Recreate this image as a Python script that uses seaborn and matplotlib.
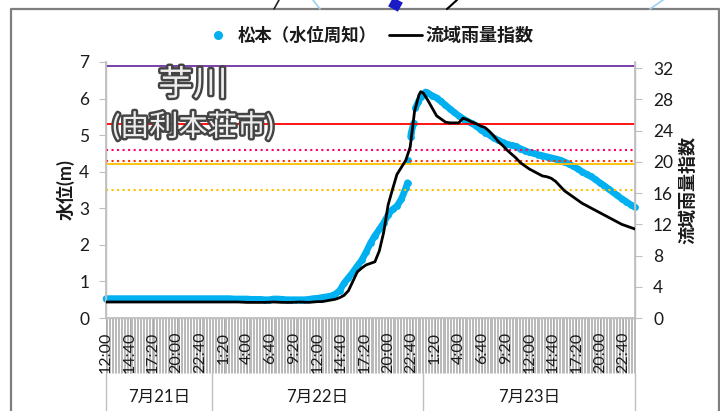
import numpy as np
import pandas as pd
import matplotlib
matplotlib.use('Agg')
from matplotlib import pyplot as plt
from matplotlib import patheffects as pe
from matplotlib.lines import Line2D
import seaborn as sns

# hours since 7/21 12:00
level_hours = [0, .5, 1, 1.5, 2, 2.5, 3, 3.5, 4, 4.5,
               5, 5.5, 6, 6.5, 7, 7.5, 8, 8.5, 9, 9.5,
               10, 10.5, 11, 11.5, 12, 12.5, 13, 13.5, 14, 14.5,
               15, 15.5, 16, 16.5, 17, 17.5, 18, 18.5, 19, 19.5,
               20, 20.5, 21, 21.5, 22, 22.5, 23, 23.5, 24, 24.5,
               25, 25.5, 26, 26.5, 27, 27.5, 28, 28.5, 29, 29.5,
               30, 30.5, 31, 31.5, 32, 32.5, 33, 33.5, 34, 34.2,
               34.3, 34.55, 34.6, 34.9, 35.1, 35.4, 35.7, 36.25, 36.5, 37,
               37.5, 38, 38.5, 39, 39.5, 40, 40.5, 41, 41.5, 42,
               42.5, 43, 43.5, 44, 44.5, 45, 45.5, 46, 46.5, 47,
               47.5, 48, 48.5, 49, 49.5, 50, 50.5, 51, 51.5, 52,
               52.5, 53, 53.5, 54, 54.5, 55, 55.5, 56, 56.5, 57,
               57.5, 58, 58.5, 59, 59.5, 60]
level_m = [.53, .53, .53, .53, .53, .53, .53, .53, .53, .53,
           .53, .53, .53, .53, .53, .53, .53, .53, .53, .53,
           .53, .53, .53, .53, .53, .53, .53, .53, .53, .52,
           .52, .52, .52, .51, .51, .51, .50, .50, .52, .52,
           .51, .50, .50, .50, .50, .50, .51, .53, .54, .56,
           .58, .60, .65, .75, .95, 1.1, 1.25, 1.42, 1.58, 1.8,
           2.05, 2.25, 2.42, 2.6, 2.82, 2.97, 3.06, 3.25, 3.55, 3.7,
           4.32, 4.95, 5.05, 5.33, 5.74, 5.9, 6.04, 6.18, 6.15, 6.08,
           6.02, 5.92, 5.82, 5.72, 5.62, 5.53, 5.45, 5.38, 5.32, 5.25,
           5.15, 5.07, 5.0, 4.92, 4.86, 4.8, 4.75, 4.72, 4.69, 4.63,
           4.58, 4.53, 4.5, 4.47, 4.44, 4.41, 4.38, 4.35, 4.32, 4.27,
           4.21, 4.15, 4.08, 4.0, 3.93, 3.87, 3.79, 3.7, 3.62, 3.53,
           3.44, 3.35, 3.26, 3.18, 3.1, 3.03]
# unbroken stretches of the gauge record, as first hour of each
level_run_starts = [0, 34.3, 34.55, 35.1]

rain_hours = [0, 1, 2, 3, 4, 5, 6, 7, 8, 9,
              10, 11, 12, 13, 14, 15, 16, 17, 18, 19,
              20, 21, 22, 23, 24, 24.5, 25, 25.5, 26, 26.5,
              27, 27.5, 28, 28.5, 29, 29.5, 30, 30.5, 31, 31.5,
              32, 32.5, 33, 33.5, 34, 34.5, 35, 35.5, 35.7, 36,
              36.5, 37, 37.5, 38, 38.5, 39, 39.5, 40, 40.5, 41,
              41.5, 42, 42.5, 43, 43.5, 44, 44.5, 45, 45.5, 46,
              46.5, 47, 47.5, 48, 48.5, 49, 49.5, 50, 50.5, 51,
              51.5, 52, 52.5, 53, 53.5, 54, 54.5, 55, 55.5, 56,
              56.5, 57, 57.5, 58, 58.5, 59, 59.5, 60]
rain_index = [2.05, 2.05, 2.05, 2.05, 2.05, 2.05, 2.05, 2.05, 2.05, 2.05,
              2.05, 2.05, 2.05, 2.05, 2.05, 2.05, 2.0, 2.0, 2.0, 2.05,
              2.0, 2.0, 2.05, 2.0, 2.1, 2.1, 2.2, 2.3, 2.4, 2.6,
              2.9, 3.5, 4.7, 5.9, 6.4, 6.8, 7.0, 7.2, 8.6, 11.0,
              14.5, 16.5, 18.4, 19.3, 20.2, 21.9, 26.5, 28.6, 29.0, 28.8,
              27.9, 26.9, 25.9, 25.5, 25.1, 25.0, 25.0, 25.0, 25.6, 25.4,
              25.1, 24.9, 24.6, 24.4, 23.9, 23.3, 22.6, 22.1, 21.5, 21.0,
              20.5, 19.9, 19.5, 19.1, 18.8, 18.5, 18.2, 18.1, 17.9, 17.5,
              16.9, 16.3, 15.9, 15.5, 15.1, 14.7, 14.4, 14.1, 13.8, 13.5,
              13.2, 12.9, 12.6, 12.3, 12.0, 11.8, 11.6, 11.4]

# warning levels on the left axis
level_values = [6.9, 5.3, 4.6, 4.3, 4.2, 3.5]
level_colors = ['#7030A0', '#FF0000', '#FF0066', '#FF3300', '#FFC000', '#FFC000']
level_styles = ['-', '-', ':', ':', '-', ':']

time_labels = ['12:00', '14:40', '17:20', '20:00', '22:40', '1:20', '4:00', '6:40',
               '9:20', '12:00', '14:40', '17:20', '20:00', '22:40', '1:20', '4:00',
               '6:40', '9:20', '12:00', '14:40', '17:20', '20:00', '22:40']
day_labels = ['7月21日', '7月22日', '7月23日']
day_edges = [0, 12, 36, 60]

sns.set_theme(style='white')
plt.rcParams['font.family'] = ['Lato', 'Noto Sans CJK JP', 'DejaVu Sans']
W, H = 720, 411
GREY = '#BFBFBF'
TXT = '#1a1a1a'
BLUE = '#00B0F0'

fig = plt.figure(figsize=(7.2, 4.11), dpi=100)
ax = fig.add_axes([106 / W, (H - 318) / H, 529 / W, 256 / H])
df_level = pd.DataFrame({'h': level_hours, 'm': level_m})
df_level['run'] = np.searchsorted(level_run_starts, df_level['h'], side='right')
df_rain = pd.DataFrame({'h': rain_hours, 'i': rain_index})

# points overlap into a solid band in the original
sns.lineplot(data=df_level, x='h', y='m', units='run', estimator=None, ax=ax, color=BLUE, lw=4.8,
             solid_capstyle='round', zorder=2, clip_on=False)
sns.scatterplot(data=df_level, x='h', y='m', ax=ax, color=BLUE, s=24,
                linewidth=0, zorder=2, clip_on=False)
for v, c, ls in zip(level_values, level_colors, level_styles):
    ax.axhline(v, color=c, ls=ls, lw=1.3 if ls == '-' else 1.5, zorder=3)

ax.set_xlim(0, 60)
ax.set_ylim(0, 7)
ax.set_yticks(range(8))
ax.set_xlabel('')
ax.set_ylabel('水位(m)', fontsize=13, fontweight='bold', color=TXT)
ax.yaxis.set_label_coords(-0.06, 0.5)
ax.tick_params(axis='y', length=5, width=0.8, color=GREY, labelsize=12.5, labelcolor=TXT, pad=7, left=True)

# ten minute ticks make the grey band under the axis, labelled ones go on the
# minor set because those are drawn last and stay on top of the band
ax.xaxis.remove_overlapping_locs = False
ax.set_xticks(np.arange(0, 60.01, 1 / 6))
ax.set_xticklabels([])
ax.set_xticks(np.arange(0, 60, 8 / 3), minor=True)
ax.set_xticklabels(time_labels, minor=True, rotation=90, fontsize=11.5, color=TXT)
ax.tick_params(axis='x', which='both', length=39.5, width=0.55, color='#a5a5a5', bottom=True)
ax.tick_params(axis='x', which='minor', pad=-29.5)

ax.spines['top'].set_visible(False)
for s in ['left', 'right', 'bottom']:
    ax.spines[s].set_color(GREY)
    ax.spines[s].set_linewidth(1)

ax2 = ax.twinx()
ax2.patch.set_visible(False)
sns.lineplot(data=df_rain, x='h', y='i', ax=ax2, color='black', lw=2, zorder=4)
ax2.set_ylim(0, 32.8)
ax2.set_yticks(range(0, 33, 4))
ax2.set_ylabel('流域雨量指数', fontsize=13, fontweight='bold', color=TXT)
ax2.yaxis.set_label_coords(1.083, 0.5)
ax2.tick_params(axis='y', length=5, width=0.8, color=GREY, labelsize=12.5, labelcolor=TXT, pad=8, right=True)
ax2.spines['top'].set_visible(False)
for s in ['left', 'right', 'bottom']:
    ax2.spines[s].set_color(GREY)

# day groups below the time labels
trans = ax.get_xaxis_transform()
for e in day_edges:
    ax.add_line(Line2D([e, e], [-55 / 256, -93 / 256], transform=trans, color=GREY, lw=1, clip_on=False))
for i, d in enumerate(day_labels):
    ax.text((day_edges[i] + day_edges[i + 1]) / 2, -79 / 256, d, transform=trans, ha='center', va='center',
            fontsize=12, color=TXT)

# river name, outlined
outline = [pe.withStroke(linewidth=3.5, foreground='#444444')]
fig.text(193 / W, 1 - 85 / H, '芋川', fontsize=25, color='#eeeeee', ha='center', va='center',
         path_effects=outline, zorder=6)
fig.text(193 / W, 1 - 126 / H, '(由利本荘市)', fontsize=21, color='#eeeeee', ha='center', va='center',
         path_effects=outline, zorder=6)

# legend, placed by hand to sit where the original has it
fig.add_artist(Line2D([218 / W], [1 - 35 / H], color=BLUE, marker='o', ls='', ms=6.5, mew=0))
fig.add_artist(Line2D([389 / W, 422 / W], [1 - 35 / H, 1 - 35 / H], color='black', lw=2))
fig.text(238 / W, 1 - 35 / H, '松本（水位周知）', fontsize=12.5, fontweight='bold', color=TXT, va='center')
fig.text(425 / W, 1 - 35 / H, '流域雨量指数', fontsize=13, fontweight='bold', color=TXT, va='center')

# chart frame and the bits of map showing above it
fig.add_artist(Line2D([10.5 / W, 10.5 / W, 718.5 / W, 718.5 / W], [0, 1 - 9.5 / H, 1 - 9.5 / H, 0],
                      color='#7f7f7f', lw=1.6))
fig.add_artist(Line2D([274 / W, 279 / W], [1 - 9 / H, 1], color='#222222', lw=1.2))
fig.add_artist(Line2D([447 / W, 457 / W], [1 - 9 / H, 1], color='black', lw=1.5))
fig.add_artist(Line2D([393 / W, 398 / W], [1 - 9 / H, 1], color='#1a1ac8', lw=8, solid_capstyle='butt'))
fig.add_artist(Line2D([313 / W, 320 / W], [1, 1 - 9 / H], color='#9fd0f0', lw=1.2))
fig.add_artist(Line2D([650 / W, 663 / W], [1 - 9 / H, 1], color='#9fd0f0', lw=1.2))

fig.savefig('out.png', dpi=100)
